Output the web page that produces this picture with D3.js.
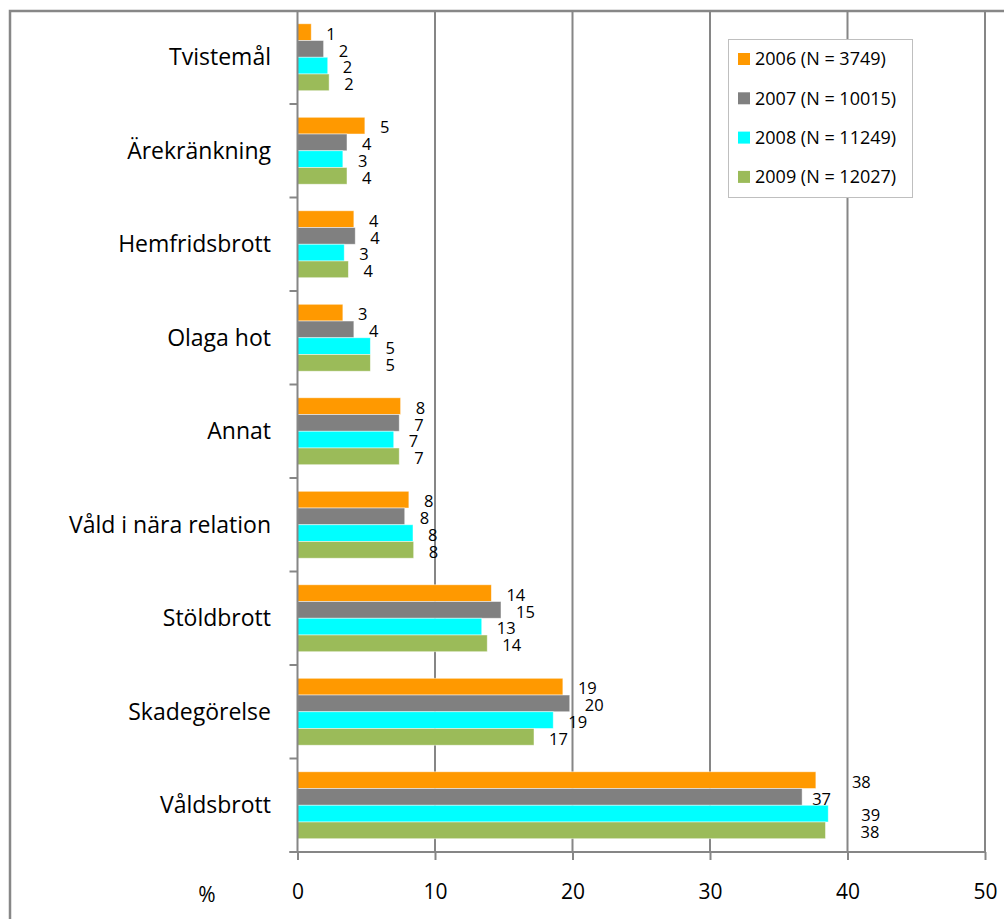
<!DOCTYPE html>
<html>
<head>
<meta charset="utf-8">
<script src="https://cdn.jsdelivr.net/npm/d3@7/dist/d3.min.js"></script>
<style>
  html, body { margin: 0; padding: 0; background: #fff; }
  svg { display: block; }
  text { font-family: "Open Sans", "Noto Sans", sans-serif; fill: #000; }
</style>
</head>
<body>
<svg id="chart" width="1004" height="919"></svg>
<script>
// ---- data ----
const categories = ["Tvistemål", "Ärekränkning", "Hemfridsbrott", "Olaga hot", "Annat",
  "Våld i nära relation", "Stöldbrott", "Skadegörelse", "Våldsbrott"];
const seriesNames = ["2006 (N = 3749)", "2007 (N = 10015)", "2008 (N = 11249)", "2009 (N = 12027)"];
const values2006 = [1.0, 4.9, 4.1, 3.3, 7.5, 8.1, 14.1, 19.3, 37.7];
const values2007 = [1.9, 3.6, 4.2, 4.1, 7.4, 7.8, 14.8, 19.8, 36.7];
const values2008 = [2.2, 3.3, 3.4, 5.3, 7.0, 8.4, 13.4, 18.6, 38.6];
const values2009 = [2.3, 3.6, 3.7, 5.3, 7.4, 8.45, 13.8, 17.2, 38.4];
const xTicks = [0, 10, 20, 30, 40, 50];
const axisUnit = "%";

// ---- style / layout ----
const colors = ["#FF9900", "#808080", "#00FFFF", "#9BBB59"];
const lineGray = "#868686";
const margin = { left: 297.5, right: 985, top: 10.5, bottom: 852 };
// manual label nudges (px) for the Våldsbrott group, as in the reference
const lastGroupNudge = [21, -5, 18, 20];

const seriesValues = [values2006, values2007, values2008, values2009];
const svg = d3.select("#chart");

const x = d3.scaleLinear().domain([0, 50]).range([margin.left, margin.right]);
const y = d3.scaleBand().domain(categories).range([margin.top, margin.bottom])
  .paddingInner(0.284).paddingOuter(0.142);
const ys = d3.scaleBand().domain(d3.range(seriesNames.length)).range([0, y.bandwidth()]);

// outer chart border
svg.append("rect").attr("x", 10).attr("y", 11).attr("width", 1100).attr("height", 1100)
  .attr("fill", "none").attr("stroke", "#878787").attr("stroke-width", 2.5);

// gridlines
svg.append("g").selectAll("line").data(xTicks.filter(d => d > 0)).join("line")
  .attr("x1", d => x(d)).attr("x2", d => x(d))
  .attr("y1", margin.top).attr("y2", margin.bottom)
  .attr("stroke", lineGray).attr("stroke-width", 2);

// bars
const groups = svg.append("g").selectAll("g").data(categories).join("g")
  .attr("transform", c => `translate(0,${y(c)})`);

groups.each(function (c, ci) {
  const g = d3.select(this);
  seriesValues.forEach((vals, si) => {
    g.append("rect")
      .attr("x", x(0)).attr("y", ys(si))
      .attr("width", x(vals[ci]) - x(0)).attr("height", ys.bandwidth())
      .attr("fill", colors[si])
      .attr("stroke", "#ffffff").attr("stroke-opacity", 0.6).attr("stroke-width", 0.8);
  });
  seriesValues.forEach((vals, si) => {
    const nudge = ci === categories.length - 1 ? lastGroupNudge[si] : 0;
    g.append("text")
      .attr("x", x(vals[ci]) + 15 + nudge)
      .attr("y", ys(si) + ys.bandwidth() / 2 + 2)
      .attr("dy", "0.35em")
      .attr("font-size", 16.5)
      .text(Math.round(vals[ci]));
  });
});

// x axis
const xAxis = d3.axisBottom(x).tickValues(xTicks).tickSize(8).tickPadding(24);
const gx = svg.append("g").attr("transform", `translate(0,${margin.bottom})`).call(xAxis);
gx.select(".domain").attr("stroke", lineGray).attr("stroke-width", 2)
  .attr("d", `M${margin.left - 8},0H${margin.right}`);
gx.selectAll(".tick line").attr("stroke", lineGray).attr("stroke-width", 2);
gx.selectAll(".tick text").attr("font-size", 21)
  .attr("font-family", "'Open Sans', sans-serif").attr("fill", "#000");

// y axis
const tickYs = d3.range(categories.length + 1).map(i => margin.top + i * y.step());
svg.append("line").attr("x1", margin.left).attr("x2", margin.left)
  .attr("y1", margin.top).attr("y2", margin.bottom)
  .attr("stroke", lineGray).attr("stroke-width", 2);
svg.append("g").selectAll("line").data(tickYs.slice(1)).join("line")
  .attr("x1", margin.left - 8).attr("x2", margin.left)
  .attr("y1", d => d).attr("y2", d => d)
  .attr("stroke", lineGray).attr("stroke-width", 2);
svg.append("g").selectAll("text").data(categories).join("text")
  .attr("x", 271).attr("y", c => y(c) + y.bandwidth() / 2)
  .attr("dy", "0.35em").attr("text-anchor", "end").attr("font-size", 23)
  .text(c => c);

// unit label
svg.append("text").attr("x", 207).attr("y", 895).attr("dy", "0.35em")
  .attr("text-anchor", "middle").attr("font-size", 21).text(axisUnit);

// legend
const lg = svg.append("g");
lg.append("rect").attr("x", 728.5).attr("y", 39.5).attr("width", 184).attr("height", 158)
  .attr("fill", "#fff").attr("stroke", "#bfbfbf").attr("stroke-width", 1);
seriesNames.forEach((name, i) => {
  const cy = 59 + i * 39.3;
  lg.append("rect").attr("x", 738).attr("y", cy - 6).attr("width", 12).attr("height", 12)
    .attr("fill", colors[i]);
  lg.append("text").attr("x", 755).attr("y", cy).attr("dy", "0.35em")
    .attr("font-size", 18).text(name);
});
</script>
</body>
</html>
